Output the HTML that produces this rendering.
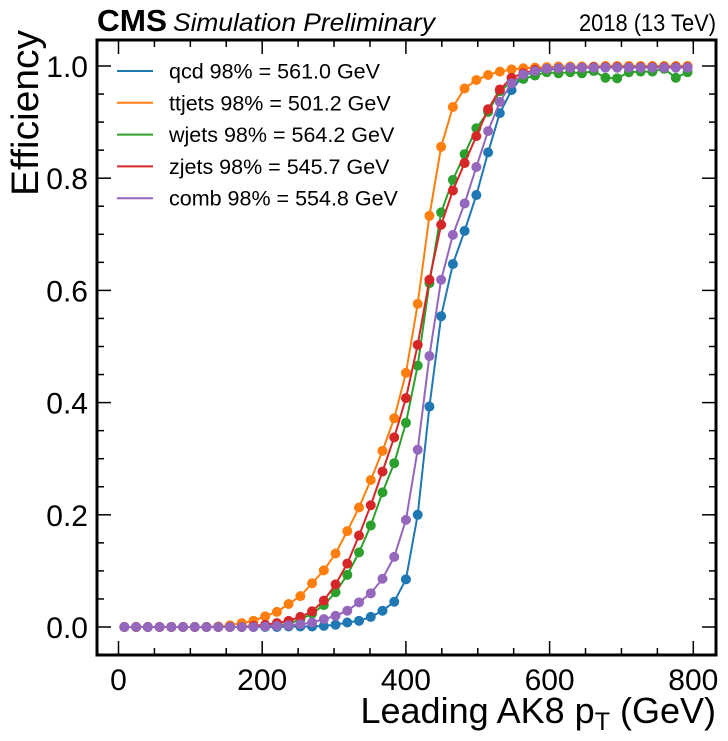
<!DOCTYPE html>
<html><head><meta charset="utf-8"><style>
body{margin:0;background:#fff;}
svg{display:block;font-family:"Liberation Sans",sans-serif;}
</style></head><body>
<svg id="chart" width="728" height="741" xmlns="http://www.w3.org/2000/svg">
<text x="97" y="31" font-size="31" font-weight="bold" textLength="70" lengthAdjust="spacingAndGlyphs">CMS</text>
<text x="173" y="31" font-size="25" font-style="italic" textLength="262" lengthAdjust="spacingAndGlyphs">Simulation Preliminary</text>
<text x="716" y="31" font-size="24" text-anchor="end" textLength="137" lengthAdjust="spacingAndGlyphs">2018 (13 TeV)</text>
<text transform="translate(38,196) rotate(-90)" font-size="38" textLength="166" lengthAdjust="spacingAndGlyphs">Efficiency</text>
<text x="716" y="723" font-size="36" text-anchor="end">Leading AK8 p<tspan font-size="25" dy="7">T</tspan><tspan dy="-7"> (GeV)</tspan></text>
<g id="plot"></g>
</svg>
<script>
const categories = [];
for (let i = 0; i < 49; i++) categories.push(8.16 + 16.33 * i);
const seriesNames = ["qcd 98% = 561.0 GeV","ttjets 98% = 501.2 GeV","wjets 98% = 564.2 GeV","zjets 98% = 545.7 GeV","comb 98% = 554.8 GeV"];
const qcd = [0,0,0,0,0,0,0,0,0,0,0,0,0,0,0.001,0.001,0.001,0.002,0.004,0.008,0.011,0.018,0.029,0.045,0.085,0.2,0.393,0.554,0.647,0.706,0.77,0.846,0.916,0.957,0.983,0.99,0.993,0.995,0.996,0.997,0.997,0.998,0.998,0.998,0.998,0.999,0.998,0.999,0.999];
const ttjets = [0,0,0,0,0,0,0,0,0.001,0.003,0.007,0.011,0.019,0.027,0.041,0.055,0.078,0.101,0.131,0.171,0.213,0.262,0.314,0.372,0.453,0.576,0.733,0.856,0.927,0.96,0.975,0.984,0.99,0.994,0.996,0.997,0.998,0.999,0.999,0.999,0.999,1,1,1,1,1,1,1,1];
const wjets = [0,0,0,0,0,0,0,0,0,0,0,0,0.001,0.003,0.006,0.013,0.024,0.039,0.062,0.093,0.133,0.181,0.24,0.292,0.364,0.466,0.613,0.739,0.797,0.843,0.889,0.918,0.955,0.972,0.977,0.983,0.989,0.987,0.989,0.987,0.991,0.979,0.978,0.989,0.99,0.99,0.995,0.979,0.989];
const zjets = [0,0,0,0,0,0,0,0,0,0,0,0.002,0.004,0.007,0.011,0.018,0.028,0.047,0.076,0.113,0.163,0.217,0.277,0.338,0.408,0.503,0.619,0.717,0.778,0.827,0.875,0.923,0.958,0.979,0.987,0.993,0.995,0.996,0.997,0.997,0.998,0.998,0.998,0.998,0.998,0.998,0.998,0.998,0.998];
const comb = [0,0,0,0,0,0,0,0,0,0,0,0,0.001,0.002,0.003,0.005,0.008,0.014,0.02,0.029,0.044,0.06,0.086,0.125,0.191,0.316,0.483,0.619,0.699,0.755,0.82,0.884,0.936,0.969,0.985,0.991,0.995,0.996,0.997,0.997,0.997,0.997,0.997,0.997,0.997,0.997,0.997,0.997,0.997];
const xTicks = [0,200,400,600,800];
const yTicks = [0,0.2,0.4,0.6,0.8,1.0];
const yTickLabels = ["0.0","0.2","0.4","0.6","0.8","1.0"];

const colors = ["#1f77b4","#ff7f0e","#2ca02c","#d62728","#9467bd"];
const allSeries = [qcd, ttjets, wjets, zjets, comb];
const L=97,R=716,T=40,B=655;
function sx(v){return 118.5 + v*0.7185;}
function sy(v){return 627 - v*561;}
const NS="http://www.w3.org/2000/svg";
const g=document.getElementById('plot');
function mk(tag,attrs,parent){const e=document.createElementNS(NS,tag);for(const k in attrs)e.setAttribute(k,attrs[k]);(parent||g).appendChild(e);return e;}

allSeries.forEach((s,si)=>{
  const sg=mk('g',{});
  
  
  const pts=s.map((v,i)=>sx(categories[i]).toFixed(2)+','+sy(v).toFixed(2)).join(' ');
  const pl=mk('polyline',{points:pts,fill:'none',stroke:colors[si],'stroke-width':2},sg);
  
  
  s.forEach((v,i)=>{
    const c=mk('circle',{cx:sx(categories[i]),cy:sy(v),r:5,fill:colors[si]},sg);
    
    
  });
});

const fr=mk('rect',{x:L,y:T,width:R-L,height:B-T,fill:'none',stroke:'#000','stroke-width':3});



for(let v=0;v<=800;v+=50){
  const x=sx(v); const major=v%200===0; const len=major?14:7;
  mk('line',{x1:x,y1:B,x2:x,y2:B-len,stroke:'#000','stroke-width':1.5});
  mk('line',{x1:x,y1:T,x2:x,y2:T+len,stroke:'#000','stroke-width':1.5});
}
xTicks.forEach(v=>{
  const t=mk('text',{x:sx(v),y:690,'font-size':30,'text-anchor':'middle'});
  t.textContent=String(v);
  
  
});
for(let k=-1;k<=20;k++){
  const v=k*0.05; const y=sy(v); if(y>B||y<T) continue;
  const major=k%4===0; const len=major?14:7;
  mk('line',{x1:L,y1:y,x2:L+len,y2:y,stroke:'#000','stroke-width':1.5});
  mk('line',{x1:R,y1:y,x2:R-len,y2:y,stroke:'#000','stroke-width':1.5});
}
yTicks.forEach((v,i)=>{
  const t=mk('text',{x:88,y:sy(v)+11,'font-size':30,'text-anchor':'end'});
  t.textContent=yTickLabels[i];
  
  
});
const lg=mk('g',{});


seriesNames.forEach((n,i)=>{
  const y=71+i*31.8;
  const e=mk('g',{},lg);
  
  
  mk('line',{x1:117,y1:y,x2:153,y2:y,stroke:colors[i],'stroke-width':2},e);
  const t=mk('text',{x:169,y:y+7.5,'font-size':21.5},e);
  t.textContent=n;
});
</script>
</body></html>
